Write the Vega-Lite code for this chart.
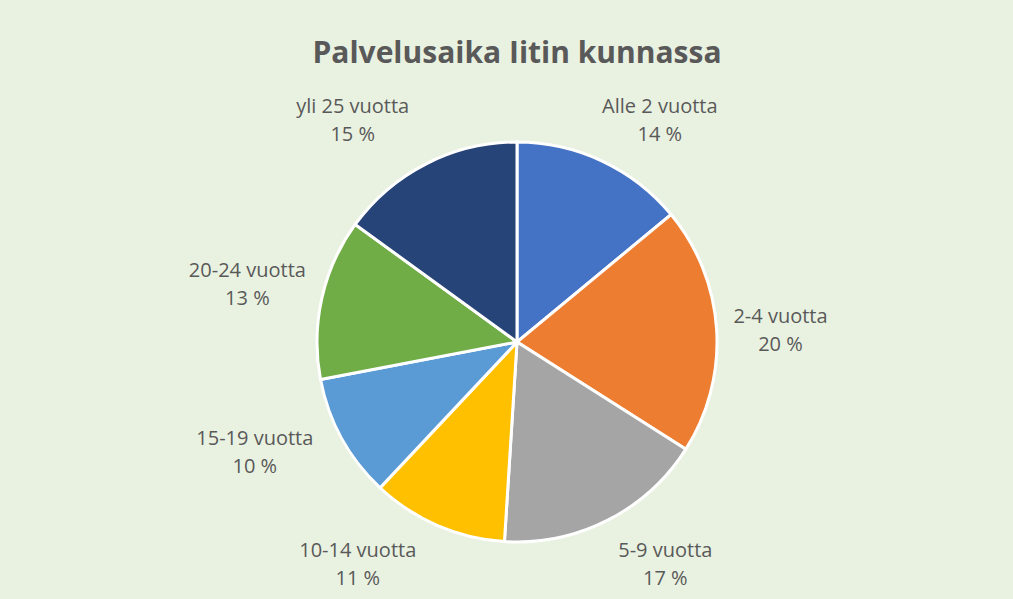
{
  "$schema": "https://vega.github.io/schema/vega-lite/v6.json",
  "width": 992,
  "height": 514,
  "autosize": {"type": "none"},
  "padding": {"top": 85, "left": 21, "right": 0, "bottom": 0},
  "background": "#E9F2E1",
  "title": {
    "text": "Palvelusaika Iitin kunnassa",
    "font": "Open Sans",
    "fontSize": 30,
    "fontWeight": "bold",
    "color": "#595959",
    "anchor": "middle",
    "offset": -11
  },
  "data": {
    "values": [
      {"i": 1, "label": "Alle 2 vuotta", "value": 14, "txt": ["Alle 2 vuotta", "14 %"]},
      {"i": 2, "label": "2-4 vuotta", "value": 20, "txt": ["2-4 vuotta", "20 %"]},
      {"i": 3, "label": "5-9 vuotta", "value": 17, "txt": ["5-9 vuotta", "17 %"]},
      {"i": 4, "label": "10-14 vuotta", "value": 11, "txt": ["10-14 vuotta", "11 %"]},
      {"i": 5, "label": "15-19 vuotta", "value": 10, "txt": ["15-19 vuotta", "10 %"]},
      {"i": 6, "label": "20-24 vuotta", "value": 13, "txt": ["20-24 vuotta", "13 %"]},
      {"i": 7, "label": "yli 25 vuotta", "value": 15, "txt": ["yli 25 vuotta", "15 %"]}
    ]
  },
  "encoding": {
    "theta": {"field": "value", "type": "quantitative", "stack": true},
    "order": {"field": "i", "type": "quantitative"}
  },
  "layer": [
    {
      "mark": {"type": "arc", "outerRadius": 200, "stroke": "white", "strokeWidth": 3},
      "encoding": {
        "color": {
          "field": "label",
          "type": "nominal",
          "scale": {
            "domain": ["Alle 2 vuotta", "2-4 vuotta", "5-9 vuotta", "10-14 vuotta", "15-19 vuotta", "20-24 vuotta", "yli 25 vuotta"],
            "range": ["#4472C4", "#ED7D31", "#A5A5A5", "#FFC000", "#5B9BD5", "#70AD47", "#264478"]
          },
          "legend": null
        }
      }
    },
    {
      "mark": {"type": "text", "radius": 265, "dx": 30, "dy": 5, "font": "Open Sans", "fontSize": 20, "lineHeight": 28, "fill": "#595959"},
      "encoding": {"text": {"condition": {"test": "datum.i == 1", "field": "txt"}, "value": ""}}
    },
    {
      "mark": {"type": "text", "radius": 265, "dx": -1, "dy": -8, "font": "Open Sans", "fontSize": 20, "lineHeight": 28, "fill": "#595959"},
      "encoding": {"text": {"condition": {"test": "datum.i == 2", "field": "txt"}, "value": ""}}
    },
    {
      "mark": {"type": "text", "radius": 265, "dx": 28, "dy": -27, "font": "Open Sans", "fontSize": 20, "lineHeight": 28, "fill": "#595959"},
      "encoding": {"text": {"condition": {"test": "datum.i == 3", "field": "txt"}, "value": ""}}
    },
    {
      "mark": {"type": "text", "radius": 265, "dx": -54, "dy": -34, "font": "Open Sans", "fontSize": 20, "lineHeight": 28, "fill": "#595959"},
      "encoding": {"text": {"condition": {"test": "datum.i == 4", "field": "txt"}, "value": ""}}
    },
    {
      "mark": {"type": "text", "radius": 265, "dx": -30, "dy": -31, "font": "Open Sans", "fontSize": 20, "lineHeight": 28, "fill": "#595959"},
      "encoding": {"text": {"condition": {"test": "datum.i == 5", "field": "txt"}, "value": ""}}
    },
    {
      "mark": {"type": "text", "radius": 265, "dx": -11, "dy": -13, "font": "Open Sans", "fontSize": 20, "lineHeight": 28, "fill": "#595959"},
      "encoding": {"text": {"condition": {"test": "datum.i == 6", "field": "txt"}, "value": ""}}
    },
    {
      "mark": {"type": "text", "radius": 265, "dx": -44, "dy": 1, "font": "Open Sans", "fontSize": 20, "lineHeight": 28, "fill": "#595959"},
      "encoding": {"text": {"condition": {"test": "datum.i == 7", "field": "txt"}, "value": ""}}
    }
  ],
  "config": {"view": {"stroke": null}}
}
